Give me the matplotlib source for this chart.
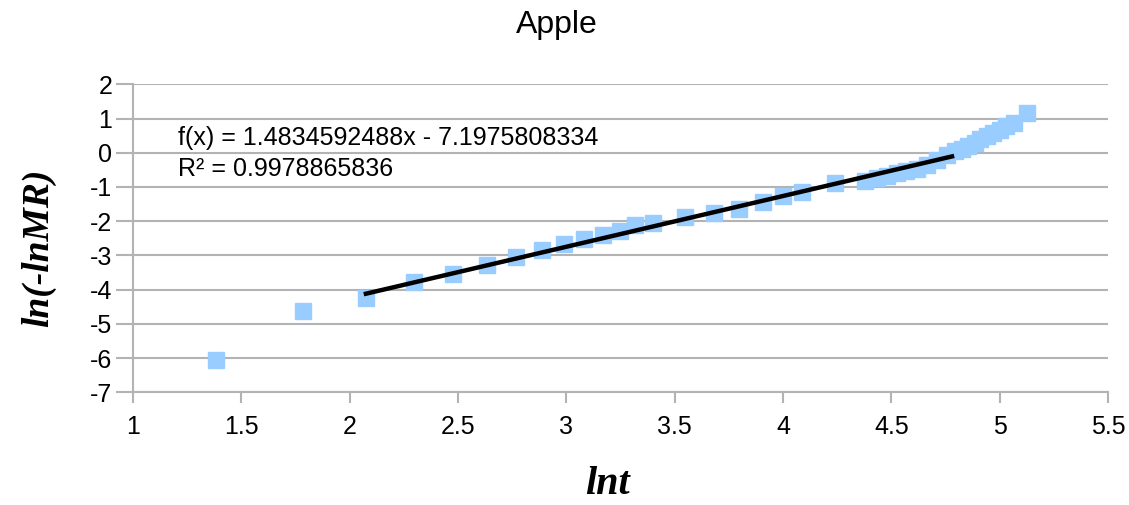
import numpy as np
import matplotlib.pyplot as plt

plt.rcParams['axes.unicode_minus'] = False

# data
ln_t = [1.382, 1.786, 2.075, 2.297, 2.478, 2.632, 2.767, 2.886, 2.989, 3.083,
        3.167, 3.247, 3.317, 3.398, 3.547, 3.681, 3.798, 3.906, 3.998, 4.086,
        4.240, 4.378, 4.432, 4.478, 4.524, 4.570, 4.617, 4.663, 4.709, 4.755,
        4.793, 4.824, 4.855, 4.886, 4.910, 4.940, 4.970, 5.000, 5.030, 5.066,
        5.127]
ln_mr = [-6.06, -4.63, -4.24, -3.77, -3.55, -3.28, -3.06, -2.85, -2.67, -2.52,
         -2.41, -2.29, -2.12, -2.06, -1.89, -1.75, -1.63, -1.45, -1.27, -1.14,
         -0.88, -0.82, -0.75, -0.68, -0.60, -0.53, -0.46, -0.36, -0.22, -0.06,
         0.04, 0.10, 0.20, 0.29, 0.39, 0.49, 0.58, 0.66, 0.78, 0.88,
         1.15]

slope = 1.4834592488
intercept = -7.1975808334
r2 = 0.9978865836
fit_range = [2.075, 4.78]

grid_color = '#b3b3b3'

fig = plt.figure(figsize=(11.29, 5.05), dpi=100)
ax = fig.add_axes([0.1178, 0.2232, 0.8636, 0.6098])

ax.plot(ln_t, ln_mr, 's', color='#99ccff', markersize=11, zorder=3)
fx = np.array(fit_range)
ax.plot(fx, slope * fx + intercept, color='black', linewidth=3.2, zorder=4)

ax.set_xlim(1, 5.5)
ax.set_ylim(-7, 2)
ax.set_xticks(np.arange(1, 5.51, 0.5))
ax.set_xticklabels(['1', '1.5', '2', '2.5', '3', '3.5', '4', '4.5', '5', '5.5'])
ax.set_yticks(range(-7, 3))

for s in ['top', 'right']:
  ax.spines[s].set_visible(False)
for s in ['left', 'bottom']:
  ax.spines[s].set_color(grid_color)
  ax.spines[s].set_linewidth(1.5)
ax.yaxis.grid(True, color=grid_color, linewidth=1.5)
ax.set_axisbelow(True)
ax.tick_params(axis='x', length=8, width=1.5, color=grid_color, pad=8,
               labelsize=18, labelcolor='black')
ax.tick_params(axis='y', length=12, width=1.5, color=grid_color, pad=3,
               labelsize=18, labelcolor='black')
for lab in ax.get_xticklabels() + ax.get_yticklabels():
  lab.set_family('Liberation Sans')

ax.text(1.208, 0.43, f'f(x) = {slope:.10f}x - {-intercept:.10f}', fontsize=18,
        family='Liberation Sans', va='center', ha='left')
ax.text(1.208, -0.48, f'R² = {r2:.10f}', fontsize=18,
        family='Liberation Sans', va='center', ha='left')

fig.text(0.493, 0.95, 'Apple', fontsize=23, family='Liberation Sans',
         ha='center', va='center')
fig.text(0.538, 0.04, 'lnt', fontsize=29, family='Liberation Serif',
         weight='bold', style='italic', ha='center', va='center')
fig.text(0.034, 0.51, 'ln(-lnMR)', fontsize=27, family='Liberation Serif',
         weight='bold', style='italic', ha='center', va='center', rotation=90)

fig.savefig('out.png', dpi=100)
